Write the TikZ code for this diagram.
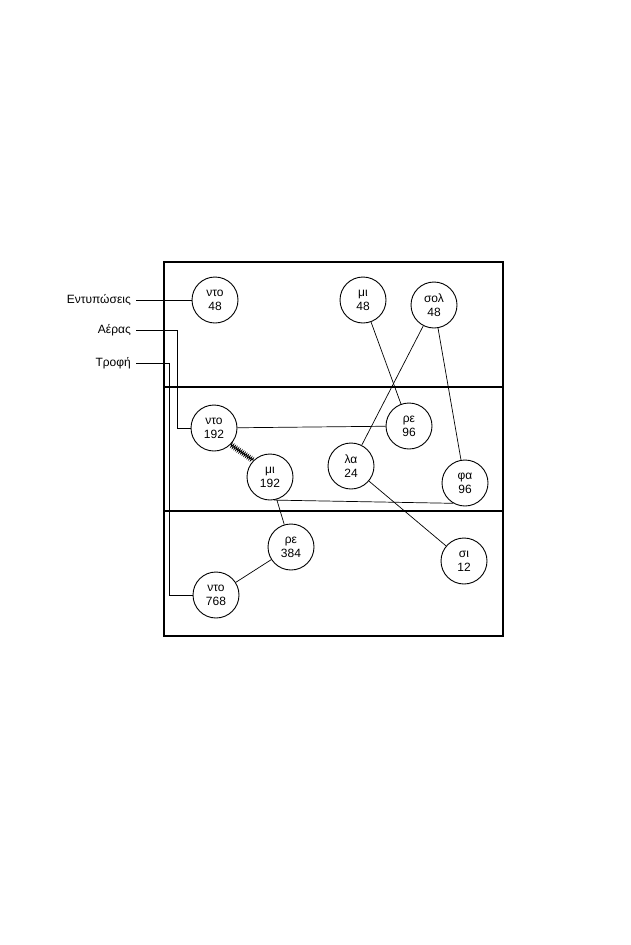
\documentclass[tikz,border=0pt]{standalone}
\usepackage{fontspec}
\setmainfont{Liberation Sans}
\usetikzlibrary{decorations.pathmorphing}
\begin{document}
\begin{tikzpicture}[x=1pt,y=-1pt,
  c/.style={circle,draw,line width=0.9pt,minimum size=46pt,inner sep=0pt,align=center,font=\fontsize{12}{14}\selectfont},
  lab/.style={anchor=east,font=\fontsize{12}{14}\selectfont,inner sep=1pt},
  ln/.style={line width=0.7pt}]
\useasboundingbox (0,0) rectangle (630,945);
\draw[line width=1.2pt] (164,262) rectangle (503,636);
\draw[line width=1.2pt] (164,387) -- (503,387) (164,511) -- (503,511);
\node[c] (a) at (215,300) {ντο\\48};
\node[c] (b) at (363,300) {μι\\48};
\node[c] (s) at (434,305) {σολ\\48};
\node[c] (r) at (409,426) {ρε\\96};
\node[c] (n) at (214,428) {ντο\\192};
\node[c] (m) at (270,477) {μι\\192};
\node[c] (l) at (351,466) {λα\\24};
\node[c] (f) at (465,483) {φα\\96};
\node[c] (q) at (291,547) {ρε\\384};
\node[c] (si) at (464,561) {σι\\12};
\node[c] (o) at (216,595) {ντο\\768};
\node[lab] (e1) at (132,300) {Εντυπώσεις};
\node[lab] (e2) at (132,330) {Αέρας};
\node[lab] (e3) at (132,363) {Τροφή};
\draw[ln] (e1.east)++(4,0) -- (a.west);
\draw[ln] (e2.east)++(4,0) -- (177,330) |- (n.west);
\draw[ln] (e3.east)++(4,0) -- (169,363) |- (o.west);
\draw[ln] (b) -- (r);
\draw[ln] (s) -- (l);
\draw[ln] (s) -- (f);
\draw[ln] (n) -- (r);
\draw[ln,decorate,decoration={zigzag,amplitude=2pt,segment length=2pt}] (n.-45) -- (m.135);
\draw[ln] (m) -- (q);
\draw[ln] (m.-80) -- (f.-120);
\draw[ln] (l) -- (si);
\draw[ln] (q) -- (o);
\end{tikzpicture}
\end{document}
